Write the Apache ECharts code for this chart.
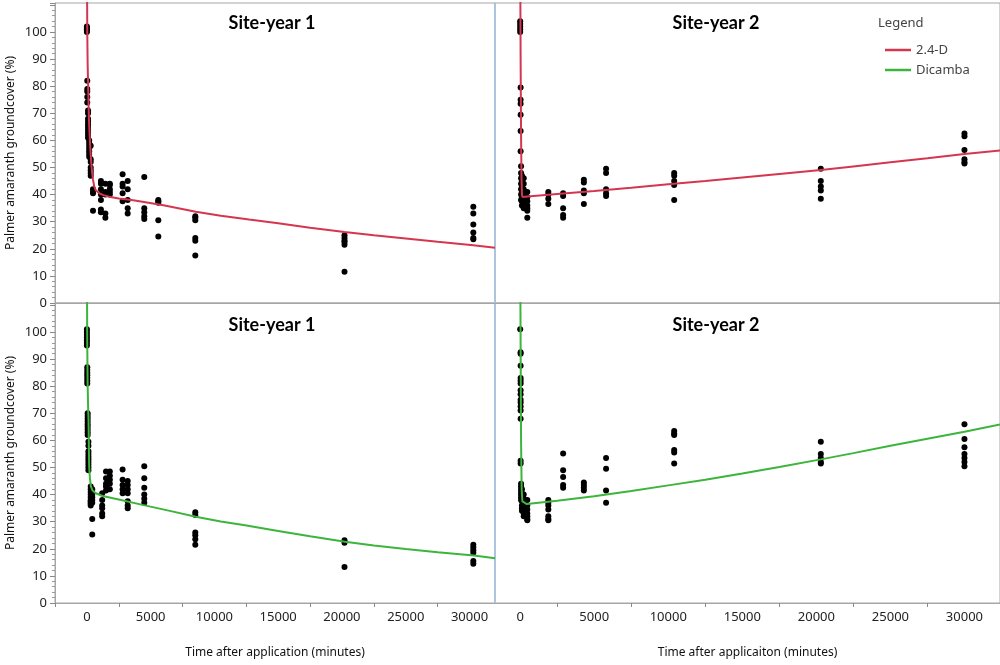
<!DOCTYPE html>
<html><head><meta charset="utf-8">
<script src="https://cdn.jsdelivr.net/npm/echarts@6/dist/echarts.min.js"></script>
<style>html,body{margin:0;padding:0;background:#fff}#c{width:1000px;height:665px}</style>
</head><body><div id="c"></div>
<script>
// ---------- Data ----------
const xTickLabels = [0, 5000, 10000, 15000, 20000, 25000, 30000];
const xMinorTicksLeft = [-2500, 2500, 7500, 12500, 17500, 22500, 27500];
const xMinorTicksRight = [2500, 7500, 12500, 17500, 22500, 27500];

// Top-left: 2.4-D, Site-year 1
const tlTimes = [0, 30, 90, 180, 300, 480, 1100, 1450, 1800, 2800, 3200, 4500, 5600, 8500, 20200, 30300];
const tlValues = [
  [100, 100.5, 101, 101.5, 102],
  [82, 79, 78, 76, 74],
  [71, 70, 68, 67, 66, 65, 64, 63, 62, 61],
  [60, 59, 58, 57, 56, 55, 54],
  [58, 53, 52, 50, 49, 48, 47],
  [42, 41, 40.5, 34],
  [45, 44, 42, 40, 38, 34.5, 33.5],
  [44, 41, 40, 33, 31.5],
  [44, 43.5, 42, 41, 40],
  [47.5, 44, 43, 40.5, 37.5],
  [45, 42, 38, 35, 33],
  [46.5, 35, 33.5, 32, 31],
  [38, 37.5, 37, 30.5, 24.5],
  [32, 31.5, 30.5, 24, 23, 17.5],
  [25, 24, 23, 22.5, 21.5, 11.5],
  [35.5, 33, 29, 26, 24, 23.5]
];
const tlFit = [[0,130],[30,100],[60,88],[100,80],[160,68],[235,60],[310,54],[390,49],[480,45.5],[575,43],[700,41.6],[965,40.5],[1300,39.8],[1750,39.2],[2500,38.6],[3500,38],[4360,37.4],[6000,36.1],[8540,33.7],[10500,32.2],[12720,30.8],[15000,29.4],[17500,27.8],[20200,26.2],[22500,25],[25000,23.8],[27500,22.6],[30300,21.3],[32000,20.4]];

// Top-right: 2.4-D, Site-year 2
const trTimes = [0, 30, 60, 120, 240, 480, 1900, 2900, 4300, 5800, 10400, 20300, 30000];
const trValues = [
  [104, 103, 102, 101, 100],
  [79.5, 75, 73.5, 69.5, 63.5, 56],
  [50.5, 48, 46, 44, 42, 40, 38],
  [47, 45, 43, 41, 39, 37.5, 36],
  [46, 44, 42, 40, 38, 37, 35],
  [41, 39, 37.5, 36, 35, 34, 31.5],
  [41, 40, 38.5, 36.5],
  [40.5, 39.5, 35, 32.5, 31.5],
  [45.5, 44.5, 41.5, 40.5, 36.5],
  [49.5, 48, 42, 40.5, 39.5],
  [48, 47, 45, 43.5, 38],
  [49.5, 45, 43, 41.5, 38.5],
  [62.5, 61.5, 56.5, 53, 52, 51.5]
];
const trFit = [[0,130],[30,90],[60,62],[90,46],[120,40],[160,39.1],[500,39.3],[2500,40.2],[5000,41.3],[7500,42.5],[10000,43.8],[12500,45],[15000,46.3],[17500,47.6],[20300,49.1],[22500,50.4],[25000,51.9],[27500,53.4],[30000,55],[32400,56.3]];

// Bottom-left: Dicamba, Site-year 1
const blTimes = [0, 30, 60, 120, 300, 420, 1200, 1500, 1800, 2800, 3200, 4500, 8500, 20200, 30300];
const blValues = [
  [101, 100, 99, 98, 97, 96, 95],
  [87, 86, 85, 84, 83, 82, 81],
  [70, 69, 68, 67, 66, 65, 64, 63, 62],
  [59.5, 58, 56, 55, 54, 53, 52, 51, 50, 49],
  [43, 42, 41, 40, 39, 38, 37.5, 37, 36.5, 36],
  [42, 40, 39, 38, 37, 31, 25.3],
  [40.5, 38, 36, 35, 33, 32],
  [48.5, 46, 44, 43, 41.5],
  [48.5, 47, 45.5, 44, 42],
  [49.3, 45.5, 43.5, 42, 40.5],
  [45, 43.5, 42, 40.5, 37.5, 36, 35],
  [50.5, 46, 42.5, 40, 38.5, 37],
  [33.5, 32.5, 26, 25, 23.5, 21.5],
  [23.2, 22.2, 13.3],
  [21.5, 20.5, 19.5, 18.5, 15.5, 14.5]
];
const blFit = [[0,125],[30,95],[60,80],[100,72],[130,67.5],[155,58],[180,50.3],[240,46],[313,43],[450,41.5],[705,40.5],[1230,39.5],[2500,38.2],[4360,36.2],[6500,34],[8540,31.8],[10500,30.1],[12400,28.7],[15000,26.6],[17500,24.6],[20240,22.6],[22500,21.2],[25000,19.9],[27500,18.7],[30350,17.5],[32000,16.5]];

// Bottom-right: Dicamba, Site-year 2
const brTimes = [0, 30, 60, 120, 240, 480, 1900, 2900, 4300, 5800, 10400, 20300, 30000];
const brValues = [
  [101],
  [92.5, 92, 87.5, 83, 82, 81, 78.5, 77, 75, 74, 72.5, 71, 68, 52.5, 51.5],
  [44, 43, 42, 41, 40, 39, 38],
  [42, 40.5, 39, 37.5, 36, 35, 34],
  [40, 38.5, 37, 36, 35, 34, 33, 32],
  [38, 36, 34.5, 33, 32, 31, 30.5],
  [38, 37, 36, 34.5, 32, 31, 30.5],
  [55.2, 49, 46.5, 43.5, 42.5],
  [44.5, 43.5, 42.5, 41.5],
  [53.5, 49.5, 41.5, 37],
  [63.5, 62.5, 62, 56.5, 55.5, 51.5],
  [59.5, 55, 53.5, 52, 51.5],
  [66, 60.5, 57.5, 55, 53.5, 52, 50.5]
];
const brFit = [[0,130],[30,95],[60,60],[100,42],[150,37.5],[450,36.5],[2500,37.7],[5000,39.4],[7500,41.3],[10000,43.4],[12500,45.5],[15000,47.8],[17500,50.2],[20300,53],[22500,55.3],[25000,58],[27500,60.6],[30000,63.2],[32400,65.9]];

const panelTitles = ['Site-year 1', 'Site-year 2', 'Site-year 1', 'Site-year 2'];
const seriesNames = ['2.4-D', 'Dicamba'];
const yTitle = 'Palmer amaranth groundcover (%)';
const xTitles = ['Time after application (minutes)', 'Time after applicaiton (minutes)'];

// ---------- Build ----------
const RED = '#d5364f', GREEN = '#3bb53b', GRAY = '#a6a6a6', BLUE = '#a7c7e7';
const FONT = 'Noto Sans';
function pts(times, values) {
  const out = [];
  times.forEach((t, i) => values[i].forEach(v => out.push([t, v])));
  return out;
}
const grids = [
  {left: 55, top: 3, width: 440, height: 300},
  {left: 495, top: 3, width: 505, height: 300},
  {left: 55, top: 303, width: 440, height: 300},
  {left: 495, top: 303, width: 505, height: 300}
].map(g => Object.assign({show: true, borderColor: GRAY, borderWidth: 1}, g));

const xAxes = [0,1,2,3].map(i => {
  const left = (i % 2 === 0);
  const bottom = i >= 2;
  return {
    type: 'value', gridIndex: i,
    min: left ? -2500 : -1700, max: left ? 32000 : 32400,
    splitLine: {show: false},
    axisLine: {show: true, onZero: false, lineStyle: {color: GRAY}},
    axisTick: bottom ? {show: true, length: 4, lineStyle: {color: '#888'}, customValues: left ? xMinorTicksLeft : xMinorTicksRight} : {show: false},
    axisLabel: bottom ? {show: true, customValues: xTickLabels, formatter: v => String(v), color: '#222', fontSize: 13, fontFamily: FONT, margin: 8} : {show: false},
    name: bottom ? xTitles[left ? 0 : 1] : '',
    nameLocation: 'middle', nameGap: 44,
    nameTextStyle: {color: '#111', fontSize: 12, fontFamily: FONT}
  };
});
const yAxes = [0,1,2,3].map(i => {
  const left = (i % 2 === 0);
  return {
    type: 'value', gridIndex: i, min: 0, max: 110.7, interval: 10,
    splitLine: {show: false},
    axisLine: {show: true, onZero: false, lineStyle: {color: left ? GRAY : BLUE, width: left ? 1 : 1.5}},
    axisTick: {show: left, length: 5, lineStyle: {color: '#888'}},
    minorTick: {show: left, splitNumber: 5, length: 3, lineStyle: {color: '#999'}},
    axisLabel: {show: left, color: '#222', fontSize: 13, fontFamily: FONT, margin: 8,
      formatter: v => v > 100 ? '' : String(v)},
    name: left ? yTitle : '', nameLocation: 'middle', nameGap: 38,
    nameTextStyle: {color: '#111', fontSize: 12, fontFamily: FONT}
  };
});

const panels = [
  {times: tlTimes, values: tlValues, fit: tlFit, name: seriesNames[0], color: RED},
  {times: trTimes, values: trValues, fit: trFit, name: seriesNames[0], color: RED},
  {times: blTimes, values: blValues, fit: blFit, name: seriesNames[1], color: GREEN},
  {times: brTimes, values: brValues, fit: brFit, name: seriesNames[1], color: GREEN}
];
const series = [];
panels.forEach((p, i) => {
  series.push({type: 'scatter', xAxisIndex: i, yAxisIndex: i, data: pts(p.times, p.values),
    symbolSize: 6, itemStyle: {color: '#000', opacity: 1}, silent: true, z: 2});
  series.push({type: 'line', name: p.name, xAxisIndex: i, yAxisIndex: i, data: p.fit,
    showSymbol: false, symbol: 'none', smooth: false, clip: true,
    lineStyle: {color: p.color, width: 2}, itemStyle: {color: p.color}, z: 3});
});

const titleCenters = [[272, 23], [716, 23], [272, 325], [716, 325]];
const graphics = titleCenters.map((c, i) => ({
  type: 'text', x: c[0], y: c[1],
  style: {text: panelTitles[i], fill: '#000', font: 'bold 18px Lato', textAlign: 'center', textVerticalAlign: 'middle'}
}));
graphics.push({type: 'text', x: 878, y: 23,
  style: {text: 'Legend', fill: '#444', font: '13px "Noto Sans"', textAlign: 'left', textVerticalAlign: 'middle'}});

const option = {
  animation: false,
  backgroundColor: '#fff',
  grid: grids,
  xAxis: xAxes,
  yAxis: yAxes,
  legend: {
    data: seriesNames, orient: 'vertical', left: 880, top: 37,
    icon: 'rect', itemWidth: 26, itemHeight: 2.5, itemGap: 4,
    textStyle: {fontSize: 13, color: '#444', fontFamily: FONT, lineHeight: 16}
  },
  graphic: graphics,
  series: series
};
echarts.init(document.getElementById('c')).setOption(option);
</script></body></html>
